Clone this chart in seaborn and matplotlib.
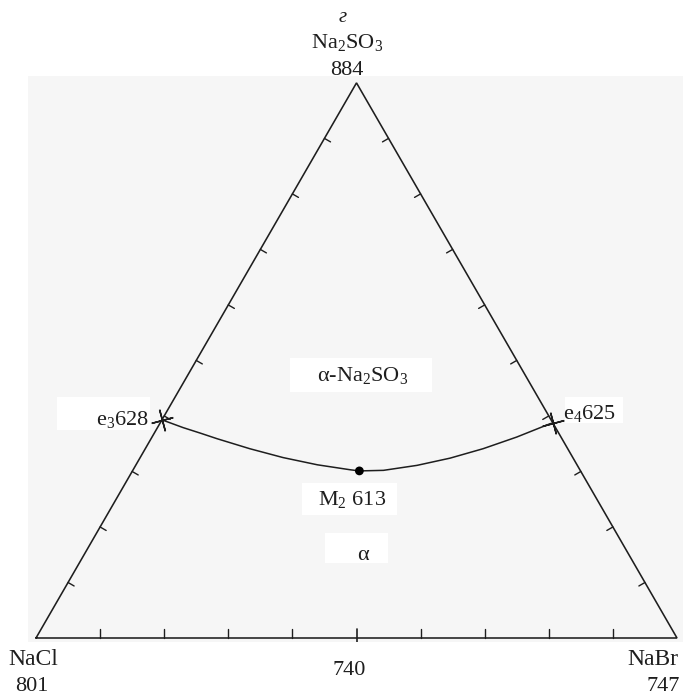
import numpy as np
import pandas as pd
import matplotlib
matplotlib.use("Agg")
import matplotlib.pyplot as plt
import seaborn as sns
from matplotlib.patches import Rectangle

# ---------------- data ----------------
vertex_names = ["NaCl", "NaBr", "Na$_2$SO$_3$"]
vertex_temps = ["801", "747", "884"]
binary_mid_label = "740"
tick_fractions = [0.1, 0.2, 0.3, 0.4, 0.5, 0.6, 0.7, 0.8, 0.9]

# monovariant curve e3 -> M2 -> e4, composition as (NaBr fraction, Na2SO3 fraction)
curve_nabr = [0.000, 0.040, 0.072, 0.103, 0.163, 0.223, 0.283, 0.339, 0.354,
              0.391, 0.439, 0.484, 0.527, 0.569, 0.609, 0.613]
curve_na2so3 = [0.393, 0.379, 0.369, 0.359, 0.341, 0.325, 0.312, 0.303, 0.301,
                0.302, 0.311, 0.324, 0.341, 0.362, 0.386, 0.387]

eutectic_names = ["e$_3$628", "e$_4$625"]
eutectic_nabr = [0.000, 0.613]
eutectic_na2so3 = [0.393, 0.387]

minimum_name = "M$_2$ 613"
minimum_nabr = [0.354]
minimum_na2so3 = [0.301]

field_labels = ["α-Na$_2$SO$_3$", "α"]
corner_mark = "г"

# ---------------- helpers ----------------
S3 = np.sqrt(3) / 2


def tern(b, c):
    b = np.asarray(b, float)
    c = np.asarray(c, float)
    return b + c / 2, c * S3


# ---------------- style ----------------
sns.set_theme(style="white")
plt.rcParams["font.family"] = ["Liberation Serif", "DejaVu Serif"]
plt.rcParams["mathtext.fontset"] = "custom"
plt.rcParams["mathtext.rm"] = "Liberation Serif"
plt.rcParams["mathtext.it"] = "Liberation Serif:italic"
plt.rcParams["mathtext.bf"] = "Liberation Serif:bold"

INK = "#1e1e1e"
FS = 16
W, H = 695, 697

fig = plt.figure(figsize=(W / 100, H / 100), dpi=100)
fig.patch.set_facecolor("white")

# axes covering the light grey panel (pixel box 28..683 x 76..642)
ax = fig.add_axes([28 / W, 1 - 642 / H, 655 / W, 566 / H])
ax.set_facecolor("#f6f6f6")
for s in ax.spines.values():
    s.set_visible(False)
ax.set_xticks([])
ax.set_yticks([])
ax.set_xlim(-8 / 641, 647 / 641)
ax.set_ylim(-4 / 641, 562 / 641)


# white label backgrounds (pixel boxes in the figure)
def white_box(x0, y0, x1, y1):
    fig.patches.append(Rectangle((x0 / W, 1 - y1 / H), (x1 - x0) / W, (y1 - y0) / H,
                                 transform=fig.transFigure, facecolor="white",
                                 edgecolor="none", zorder=1))


white_box(57, 397, 150, 430)
white_box(565, 397, 623, 423)
white_box(290, 358, 432, 392)
white_box(302, 483, 397, 515)
white_box(325, 533, 388, 563)

# triangle
tri_b = [0, 1, 0, 0]
tri_c = [0, 0, 1, 0]
tx, ty = tern(tri_b, tri_c)
ax.plot(tx, ty, color=INK, lw=1.15, solid_joinstyle="miter", zorder=3)

# ticks
L_side = 7 / 641
L_bot = 9 / 641
for f in tick_fractions:
    # bottom edge
    x, y = tern(f, 0)
    if abs(f - 0.5) < 1e-9:
        ax.plot([x, x], [y - 5 / 641, y + L_bot], color=INK, lw=1.2, zorder=3)
    else:
        ax.plot([x, x], [y, y + L_bot], color=INK, lw=1.0, zorder=3)
    # left edge (NaCl - Na2SO3)
    x, y = tern(0, f)
    ax.plot([x, x + L_side * S3], [y, y - L_side * 0.5], color=INK, lw=1.0, zorder=3)
    # right edge (NaBr - Na2SO3)
    x, y = tern(1 - f, f)
    ax.plot([x, x - L_side * S3], [y, y - L_side * 0.5], color=INK, lw=1.0, zorder=3)

# monovariant curve
cx, cy = tern(curve_nabr, curve_na2so3)
curve_df = pd.DataFrame({"x": cx, "y": cy})
sns.lineplot(data=curve_df, x="x", y="y", sort=False, estimator=None,
             color=INK, lw=1.1, ax=ax, zorder=4)

# eutectic crosses
ex, ey = tern(eutectic_nabr, eutectic_na2so3)
ax.plot(ex, ey, linestyle="none", marker=(4, 2, 15), markersize=16,
        markeredgewidth=1.1, color=INK, zorder=5)

# ternary minimum point
mx, my = tern(minimum_nabr, minimum_na2so3)
sns.scatterplot(x=mx, y=my, s=40, color="black", edgecolor="none", ax=ax, zorder=6)
ax.set_xlabel("")
ax.set_ylabel("")


# ---------------- text (pixel anchored) ----------------
def ptext(x, y, s, ha="center", **kw):
    fig.text(x / W, 1 - y / H, s, ha=ha, va="baseline", fontsize=kw.pop("fontsize", FS),
             color=INK, zorder=10, **kw)


ptext(343, 22, corner_mark, fontsize=15, fontstyle="italic")
ptext(347, 48, vertex_names[2])
ptext(347, 75, vertex_temps[2])
ptext(33, 665, vertex_names[0], fontsize=17)
ptext(32, 691, vertex_temps[0])
ptext(678, 665, vertex_names[1], ha="right", fontsize=17)
ptext(680, 691, vertex_temps[1], ha="right")
ptext(349, 675, binary_mid_label)
ptext(149, 425, eutectic_names[0], ha="right")
ptext(563, 419, eutectic_names[1], ha="left")
ptext(363, 381, field_labels[0])
ptext(352, 505, minimum_name)
ptext(363, 560, field_labels[1])

fig.savefig("out.png", dpi=100, facecolor="white")
